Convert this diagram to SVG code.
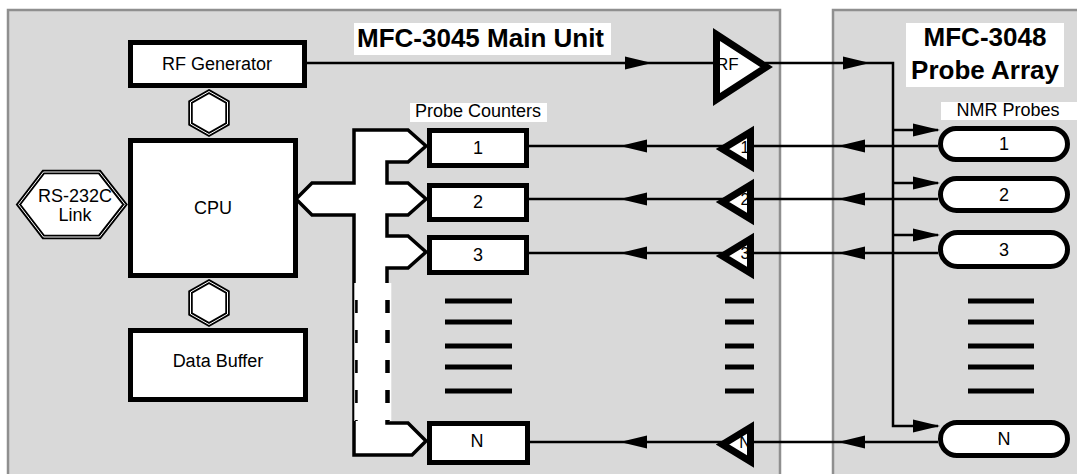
<svg xmlns="http://www.w3.org/2000/svg" xmlns:xlink="http://www.w3.org/1999/xlink" width="1077" height="474" viewBox="0 0 1077 474">
<style>
.panel{fill:#d9d9d9;stroke:#8f8f8f;stroke-width:2.5}
.box{fill:#fff;stroke:#000;stroke-width:5}
.t{font-family:"Liberation Sans",Arial,sans-serif;font-size:18px;fill:#000;text-anchor:middle}
.sm{font-size:16px}
.title{font-weight:bold;font-size:26px}
.wire{stroke:#000;stroke-width:2.5;fill:none}
.ampf{fill:#fff;stroke:none}
.amps{fill:none;stroke:#000;stroke-width:7;stroke-linejoin:miter;stroke-miterlimit:10}
.bar{stroke:#000;stroke-width:5}
.hex{fill:#fff;stroke:#000;stroke-width:4.5;stroke-linejoin:miter}
.hexin{fill:none;stroke:#fff;stroke-width:1}
.lblbg{fill:#fff}
.bus{fill:#fff;stroke:#000;stroke-width:3.5;stroke-linejoin:miter}
.dash{stroke:#000;fill:none;stroke-dasharray:13 17}
</style>
<defs>
<path id="arrL" d="M0,0 L27,-6.5 L27,6.5 Z" fill="#000"/>
<path id="arrR" d="M0,0 L-27,-6.5 L-27,6.5 Z" fill="#000"/>
</defs>

<g id="panel-main">
<rect class="panel" x="8" y="10" width="772" height="480"/>
</g>
<g id="panel-probe">
<rect class="panel" x="833" y="10" width="260" height="480"/>
</g>

<g id="labels">
<rect class="lblbg" x="354" y="23" width="257" height="32"/>
<text class="t title" x="357" y="47" style="text-anchor:start">MFC-3045 Main Unit</text>
<rect class="lblbg" x="906" y="23" width="158" height="64"/>
<text class="t title" x="985" y="46">MFC-3048</text>
<text class="t title" x="985" y="79">Probe Array</text>
<rect class="lblbg" x="410" y="103" width="137" height="19"/>
<text class="t" x="478" y="117">Probe Counters</text>
<rect class="lblbg" x="941" y="102" width="136" height="18"/>
<text class="t" x="1008" y="116">NMR Probes</text>
</g>

<g id="connectors">
<path class="wire" d="M307,63 H717"/>
<use xlink:href="#arrR" x="652" y="63"/>
<path class="wire" d="M765,63 H893 V426 H938"/>
<use xlink:href="#arrR" x="870" y="63"/>
<path class="wire" d="M893,130 H938 M893,183 H938 M893,235 H938"/>
<use xlink:href="#arrR" x="940" y="130"/>
<use xlink:href="#arrR" x="940" y="183"/>
<use xlink:href="#arrR" x="940" y="235"/>
<use xlink:href="#arrR" x="940" y="426"/>
<path class="wire" d="M938,146 H529 M938,199 H529 M938,253 H529 M938,442 H529"/>
<use xlink:href="#arrL" x="838" y="146"/>
<use xlink:href="#arrL" x="620" y="146"/>
<use xlink:href="#arrL" x="838" y="199"/>
<use xlink:href="#arrL" x="620" y="199"/>
<use xlink:href="#arrL" x="838" y="253"/>
<use xlink:href="#arrL" x="620" y="253"/>
<use xlink:href="#arrL" x="838" y="442"/>
<use xlink:href="#arrL" x="620" y="442"/>
</g>

<g id="rf-generator">
<rect class="box" x="130.5" y="42.5" width="174" height="43"/>
<text class="t" x="217" y="70">RF Generator</text>
</g>
<g id="link-rf-cpu">
<polygon class="hex" points="209,91.5 227.5,102 227.5,124 209,134.5 190.5,124 190.5,102"/>
<polygon class="hexin" points="209,91.5 227.5,102 227.5,124 209,134.5 190.5,124 190.5,102"/>
</g>
<g id="cpu">
<rect class="box" x="130.5" y="140.5" width="165" height="135"/>
<text class="t" x="213" y="214">CPU</text>
</g>
<g id="link-cpu-buffer">
<polygon class="hex" points="209,281.5 227.5,292 227.5,314 209,324.5 190.5,314 190.5,292"/>
<polygon class="hexin" points="209,281.5 227.5,292 227.5,314 209,324.5 190.5,314 190.5,292"/>
</g>
<g id="data-buffer">
<rect class="box" x="130.5" y="330.5" width="175" height="69"/>
<text class="t" x="218" y="367">Data Buffer</text>
</g>
<g id="rs232c">
<polygon class="hex" points="18.5,204.5 43.5,172 99.5,172 125,204.5 99.5,237 43.5,237"/>
<polygon class="hexin" points="18.5,204.5 43.5,172 99.5,172 125,204.5 99.5,237 43.5,237"/>
<text class="t" x="75" y="202">RS-232C</text>
<text class="t" x="75" y="221">Link</text>
</g>

<g id="bus">
<path class="bus" d="M296,199 L312,183 L354,183 L354,130 L408,130 L426,146 L408,162 L387,162 L387,183 L408,183 L426,199 L408,215 L387,215 L387,236 L408,236 L426,252 L408,268 L387,268 L387,423 L408,423 L426,441 L412,455 L354,455 L354,215 L312,215 Z"/>
<rect x="354.3" y="283" width="37" height="138" fill="#fff"/>
<path class="dash" stroke-width="2.6" d="M356.4,300 V421"/>
<path class="dash" stroke-width="4.5" d="M387.5,300 V421"/>
</g>

<g id="counter-1">
<rect class="box" x="429.5" y="130.5" width="97" height="35"/>
<text class="t" x="478" y="154">1</text>
</g>
<g id="counter-2">
<rect class="box" x="429.5" y="185.5" width="97" height="34"/>
<text class="t" x="478" y="208">2</text>
</g>
<g id="counter-3">
<rect class="box" x="429.5" y="237.5" width="97" height="35"/>
<text class="t" x="478" y="261">3</text>
</g>
<g id="counter-N">
<rect class="box" x="429.5" y="423.5" width="98" height="39"/>
<text class="t" x="477" y="447">N</text>
</g>

<g id="counter-ellipsis">
<path class="bar" d="M445,301 H512 M445,322 H512 M445,346 H512 M445,367 H512 M445,391 H512"/>
</g>

<g id="rf-amp">
<polygon class="ampf" points="716.5,34.5 766.5,67 716.5,99.5"/>
<text class="t" x="716" y="70" style="text-anchor:start;font-size:17px">RF</text>
<polygon class="amps" points="716.5,34.5 766.5,67 716.5,99.5"/>
</g>

<g id="rx-amp-1">
<polygon class="ampf" points="722.5,149 750.5,132 750.5,166"/>
<text class="t sm" x="745" y="153">1</text>
<polygon class="amps" points="722.5,149 750.5,132 750.5,166"/>
</g>
<g id="rx-amp-2">
<polygon class="ampf" points="722.5,202 750.5,185 750.5,219"/>
<text class="t sm" x="745" y="205">2</text>
<polygon class="amps" points="722.5,202 750.5,185 750.5,219"/>
</g>
<g id="rx-amp-3">
<polygon class="ampf" points="722.5,256 750.5,239 750.5,273"/>
<text class="t sm" x="745" y="259">3</text>
<polygon class="amps" points="722.5,256 750.5,239 750.5,273"/>
</g>
<g id="rx-amp-N">
<polygon class="ampf" points="722.5,444.5 750.5,427.5 750.5,461.5"/>
<text class="t sm" x="745" y="448">N</text>
<polygon class="amps" points="722.5,444.5 750.5,427.5 750.5,461.5"/>
</g>

<g id="amp-ellipsis">
<path class="bar" d="M725,301 H754 M725,322 H754 M725,346 H754 M725,367 H754 M725,391 H754"/>
</g>

<g id="probe-1">
<rect class="box" x="940.5" y="128.5" width="127" height="31" rx="15.5"/>
<text class="t" x="1004" y="150">1</text>
</g>
<g id="probe-2">
<rect class="box" x="940.5" y="178.5" width="127" height="32" rx="16"/>
<text class="t" x="1004" y="201">2</text>
</g>
<g id="probe-3">
<rect class="box" x="940.5" y="232.5" width="127" height="34" rx="17"/>
<text class="t" x="1004" y="256">3</text>
</g>
<g id="probe-N">
<rect class="box" x="940.5" y="422.5" width="127" height="33" rx="16.5"/>
<text class="t" x="1004" y="445">N</text>
</g>

<g id="probe-ellipsis">
<path class="bar" d="M968,301 H1034 M968,322 H1034 M968,346 H1034 M968,367 H1034 M968,391 H1034"/>
</g>
</svg>
